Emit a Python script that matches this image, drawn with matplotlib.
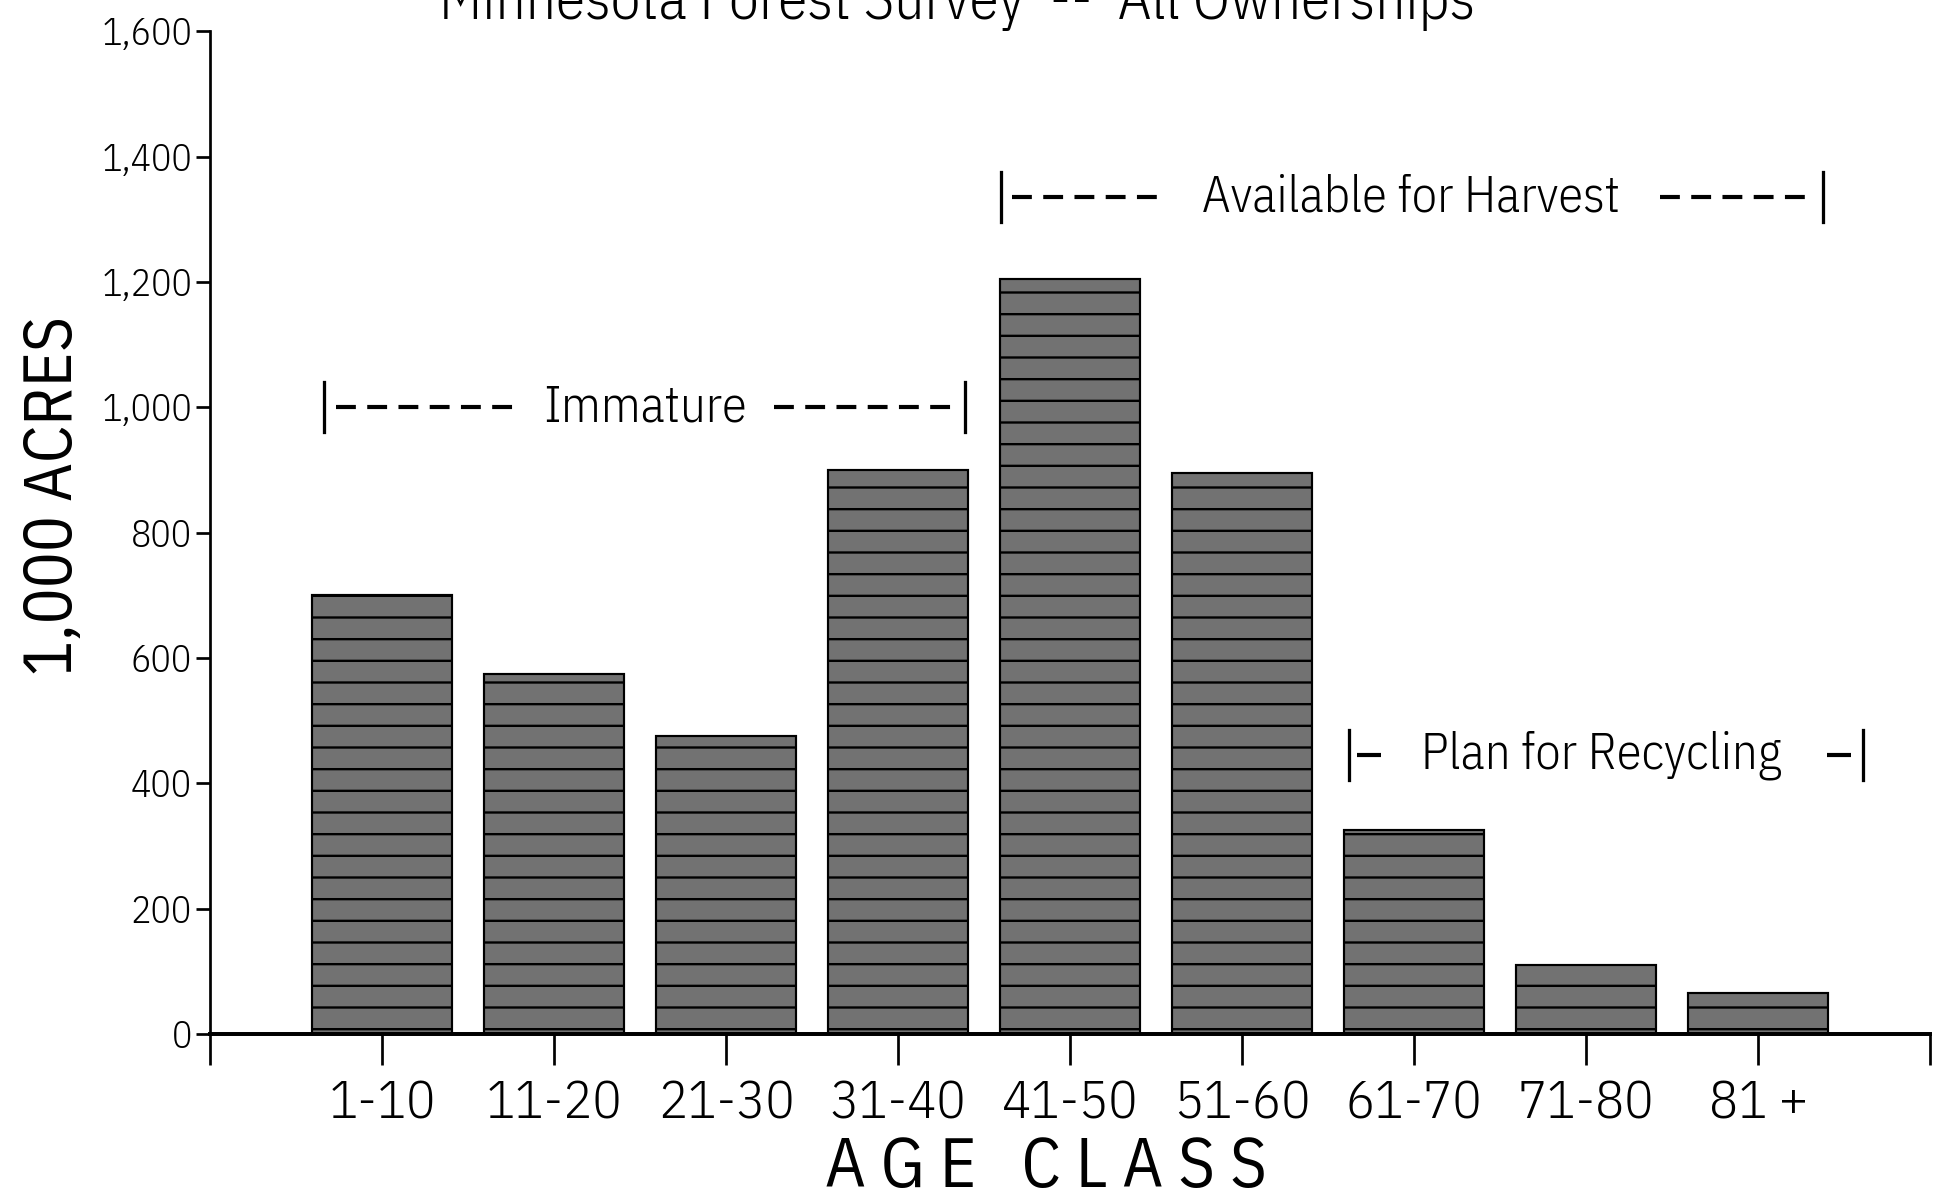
import matplotlib
matplotlib.use("Agg")
import matplotlib.pyplot as plt

# Datos (miles de acres por clase de edad)
age_classes = ["1-10", "11-20", "21-30", "31-40", "41-50", "51-60", "61-70", "71-80", "81 +"]
acres = [700, 575, 475, 900, 1205, 895, 325, 110, 65]
y_ticks = [0, 200, 400, 600, 800, 1000, 1200, 1400, 1600]
y_tick_labels = ["0", "200", "400", "600", "800", "1,000", "1,200", "1,400", "1,600"]

# Grupos de anotacion: texto, extremos del corchete, altura, tramos de guiones
group_labels = ["Immature", "Available for Harvest", "Plan for Recycling"]
group_start = [-0.34, 3.60, 5.62]
group_end = [3.39, 8.38, 8.61]
group_y = [1000, 1335, 445]
group_text_x = [1.53, 5.98, 7.09]
dash_left = [(-0.27, 0.76), (3.66, 4.52), (5.67, 5.81)]
dash_right = [(2.28, 3.34), (7.43, 8.33), (8.40, 8.54)]
dash_style = [(0, (11, 6.3)), (0, (11, 6.3)), "-"]

plt.rcParams["font.family"] = ["IBM Plex Sans Condensed", "DejaVu Sans"]
plt.rcParams["font.weight"] = 300
plt.rcParams["hatch.linewidth"] = 1.3
plt.rcParams["lines.scale_dashes"] = False

dpi = 130
fig = plt.figure(figsize=(1934 / dpi, 1203 / dpi), dpi=dpi)
ax = fig.add_axes([0.1086, 0.1405, 0.8894, 0.8335])

x = list(range(len(age_classes)))
ax.bar(x, acres, width=0.81, color="#727272", edgecolor="black",
       linewidth=1.2, hatch="-", zorder=2)

ax.set_xlim(-1, 9)
ax.set_ylim(0, 1600)
ax.set_xticks(list(range(-1, 10)))
ax.set_xticklabels([""] + age_classes + [""], fontsize=30)
ax.set_yticks(y_ticks)
ax.set_yticklabels(y_tick_labels, fontsize=21)

ax.spines["top"].set_visible(False)
ax.spines["right"].set_visible(False)
ax.spines["bottom"].set_linewidth(2.2)
ax.spines["left"].set_linewidth(1.5)
ax.tick_params(axis="x", direction="out", length=17, width=1.5, pad=8)
ax.tick_params(axis="y", direction="out", length=8, width=1.5, pad=2)

ax.set_ylabel("1,000 ACRES", fontsize=37)
ax.yaxis.label.set(ha="center", va="center", rotation_mode="default")
ax.yaxis.set_label_coords(-0.091, 0.536)
ax.set_xlabel("A G E   C L A S S", fontsize=39)
ax.xaxis.label.set(ha="center", va="center")
ax.xaxis.set_label_coords(0.486, -0.134)

# Corchetes con lineas discontinuas
for i, lab in enumerate(group_labels):
    yy = group_y[i]
    for xb in (group_start[i], group_end[i]):
        ax.plot([xb, xb], [yy - 40, yy + 40], color="black", lw=1.8)
    for seg in (dash_left[i], dash_right[i]):
        ax.plot(list(seg), [yy, yy], color="black", lw=2.3,
                linestyle=dash_style[i], dash_capstyle="butt",
                solid_capstyle="butt")
    ax.text(group_text_x[i], yy, lab, ha="center", va="center", fontsize=28)

# Titulo (cortado en la parte superior del original)
fig.text(0.495, 0.998, "Minnesota Forest Survey  --  All Ownerships",
         ha="center", va="center", fontsize=33)

fig.savefig("out.png", dpi=dpi)
